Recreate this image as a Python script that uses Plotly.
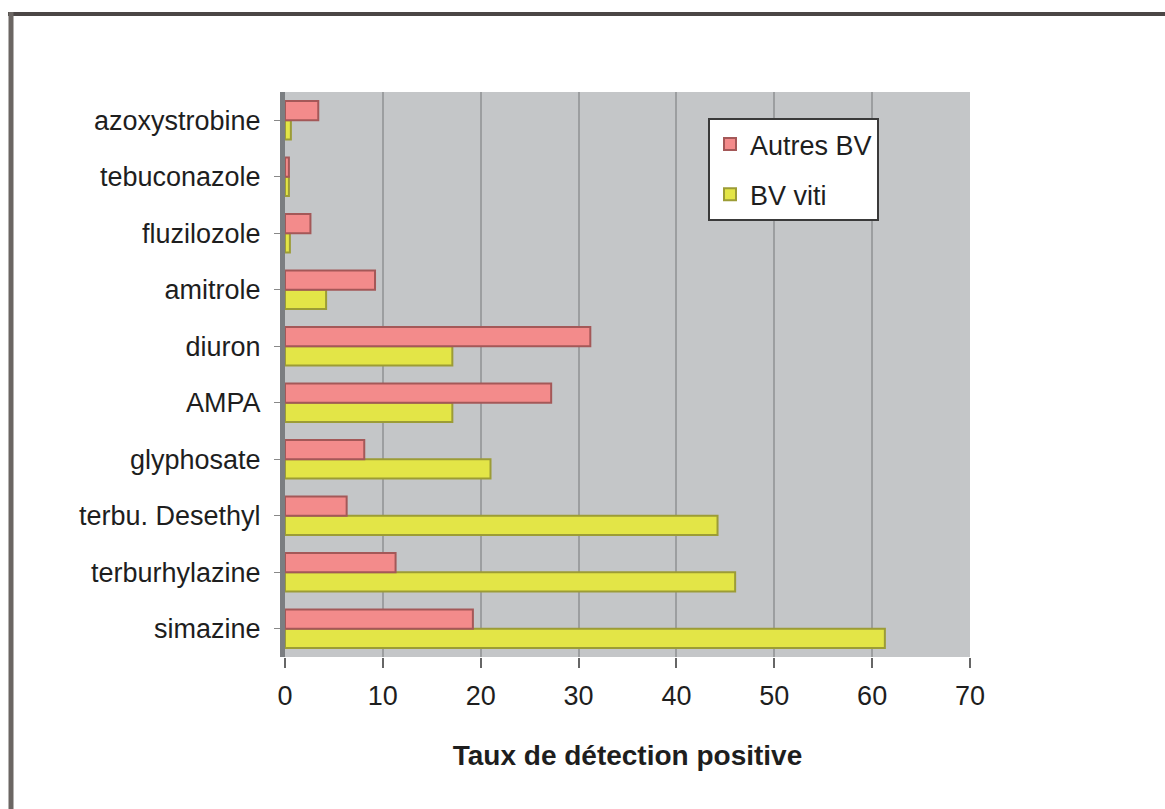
import plotly.graph_objects as go

# categories listed bottom -> top
categories = ["simazine", "terburhylazine", "terbu. Desethyl", "glyphosate", "AMPA",
              "diuron", "amitrole", "fluzilozole", "tebuconazole", "azoxystrobine"]
autres_bv = [19.2, 11.3, 6.3, 8.1, 27.2, 31.2, 9.2, 2.6, 0.4, 3.4]
bv_viti = [61.3, 46.0, 44.2, 21.0, 17.1, 17.1, 4.2, 0.5, 0.4, 0.6]
x_ticks = [0, 10, 20, 30, 40, 50, 60, 70]

FONT = "Liberation Sans, Arial, sans-serif"

fig = go.Figure()
fig.add_trace(go.Bar(
    y=categories, x=bv_viti, orientation="h", name="BV viti",
    marker=dict(color="#e3e547", line=dict(color="#9c9c36", width=2)),
    legendgroup="b", legendrank=2,
))
fig.add_trace(go.Bar(
    y=categories, x=autres_bv, orientation="h", name="Autres BV",
    marker=dict(color="#f38b8b", line=dict(color="#a45858", width=2)),
    legendgroup="a", legendrank=1,
))

L, R, T, B = 285, 970, 92, 657
W, H = R - L, B - T

def px(x):
    return (x - L) / W

def py(y):
    return (B - y) / H

fig.update_layout(
    width=1165, height=809,
    margin=dict(l=L, r=1165 - R, t=T, b=809 - B),
    paper_bgcolor="white",
    plot_bgcolor="#c4c6c8",
    barmode="group", bargap=0.32, bargroupgap=0.0,
    font=dict(family=FONT, size=27, color="#1e1e1e"),
    showlegend=True,
    legend=dict(
        x=px(708), y=py(118), xanchor="left", yanchor="top",
        bgcolor="white", bordercolor="#3a3a3a", borderwidth=2,
        traceorder="grouped", tracegroupgap=12,
        font=dict(family=FONT, size=27, color="#1e1e1e"),
    ),
    xaxis=dict(
        range=[0, 70], tickvals=x_ticks, ticktext=[str(v) for v in x_ticks],
        showgrid=True, gridcolor="#9c9ea0", gridwidth=2,
        zeroline=False, showline=False,
        ticks="outside", ticklen=10, tickcolor="#666", tickwidth=2,
        ticklabelstandoff=5,
        title=dict(text="<b>Taux de détection positive</b>",
                   font=dict(family=FONT, size=28, color="#1e1e1e"), standoff=34),
        automargin=False,
    ),
    yaxis=dict(
        showgrid=False, zeroline=False,
        showline=True, linecolor="#7b7e81", linewidth=5,
        ticks="outside", ticklen=6, tickcolor="#888", tickwidth=1,
        ticklabelstandoff=8,
        automargin=False,
    ),
    shapes=[
        dict(type="line", xref="paper", yref="paper",
             x0=px(8), x1=px(1165), y0=py(14), y1=py(14),
             line=dict(color="#4b4645", width=4)),
        dict(type="line", xref="paper", yref="paper",
             x0=px(11), x1=px(11), y0=py(12), y1=py(809),
             line=dict(color="#6b6663", width=5)),
    ],
)

fig.write_html("out.html")
